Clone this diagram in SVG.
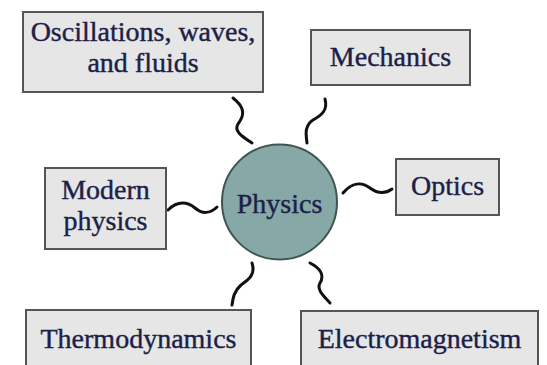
<svg xmlns="http://www.w3.org/2000/svg" width="547" height="365" viewBox="0 0 547 365">
<style>
.box{fill:#e6e6e6;stroke:#555;stroke-width:2}
.t{font-size:28px;fill:#1c1f48;text-anchor:middle;stroke:#1c1f48;stroke-width:0.4}
.sq{fill:none;stroke:#111;stroke-width:3;stroke-linecap:round}
</style>
<rect width="547" height="365" fill="#fff"/>
<g id="connectors">
<path class="sq" d="M233,98 C246,108 244,116 238,124 C233,132 245,138 252,143"/>
<path class="sq" d="M325,99 C328,110 322,115 313,120 C304,126 306,135 307,143"/>
<path class="sq" d="M252,263 C256,275 248,280 241,285 C234,291 233,298 232,305"/>
<path class="sq" d="M310,263 C320,268 325,275 320,283 C316,290 325,297 330,303"/>
<path class="sq" d="M168,210 C178,200 188,202 195,208 C202,214 210,214 217,207"/>
<path class="sq" d="M343,193 C352,182 362,182 370,188 C378,194 385,194 392,189"/>
</g>
<g id="physics">
<circle cx="279.5" cy="202" r="57.5" fill="#86a8a6" stroke="#3f5552" stroke-width="2"/>
<text class="t" font-family="Liberation Serif" x="279.5" y="213">Physics</text>
</g>
<g id="oscillations">
<rect class="box" x="23" y="12" width="240" height="80"/>
<text class="t" font-family="Liberation Serif" x="143" y="41">Oscillations, waves,</text>
<text class="t" font-family="Liberation Serif" x="143" y="72">and fluids</text>
</g>
<g id="mechanics">
<rect class="box" x="311" y="30" width="159" height="55"/>
<text class="t" font-family="Liberation Serif" x="390.5" y="66">Mechanics</text>
</g>
<g id="modern">
<rect class="box" x="45" y="168" width="121" height="81"/>
<text class="t" font-family="Liberation Serif" x="105.5" y="199">Modern</text>
<text class="t" font-family="Liberation Serif" x="105.5" y="230">physics</text>
</g>
<g id="optics">
<rect class="box" x="396" y="159" width="103" height="56"/>
<text class="t" font-family="Liberation Serif" x="447.5" y="195">Optics</text>
</g>
<g id="thermo">
<rect class="box" x="26" y="310" width="225" height="70"/>
<text class="t" font-family="Liberation Serif" x="138.5" y="348">Thermodynamics</text>
</g>
<g id="em">
<rect class="box" x="301" y="311" width="237" height="70"/>
<text class="t" font-family="Liberation Serif" x="419.5" y="348">Electromagnetism</text>
</g>
</svg>
